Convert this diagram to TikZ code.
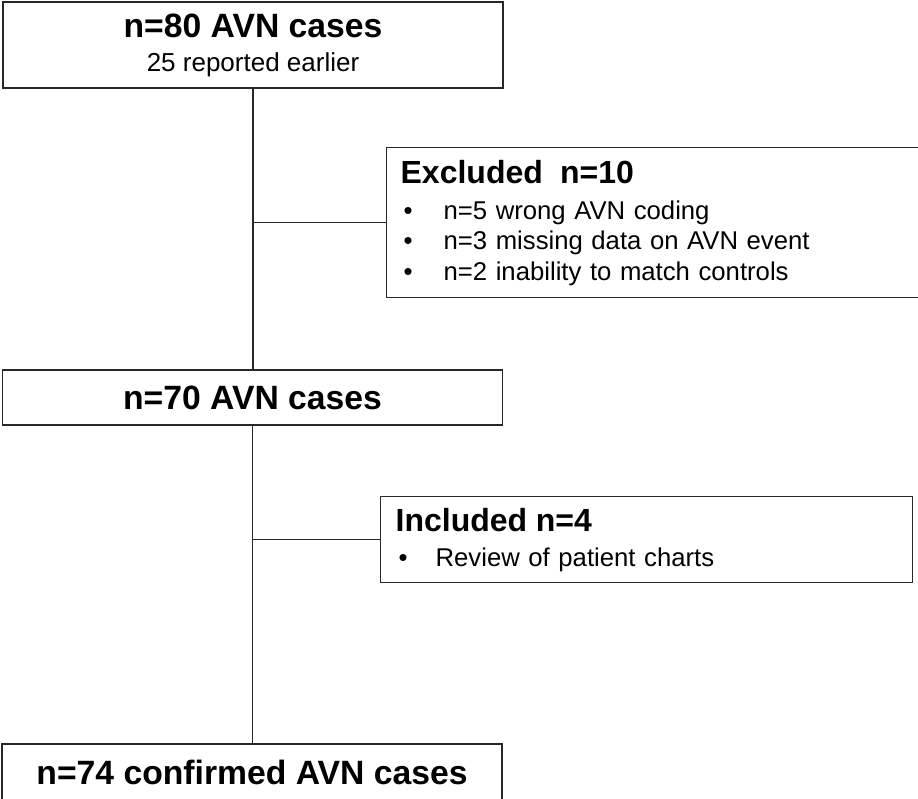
\documentclass[tikz,border=0pt]{standalone}
\usepackage{fontspec}
\setmainfont{Liberation Sans}
\usepackage{tikz}
\definecolor{white}{rgb}{1.0, 1.0, 1.0}
\definecolor{boxline}{RGB}{40,40,40}
\usetikzlibrary{positioning}
\pgfdeclarelayer{edgelayer}
\pgfdeclarelayer{nodelayer}
\pgfsetlayers{edgelayer,nodelayer,main}
\tikzstyle{mainbox}=[rectangle,fill=white,draw=boxline,line width=1.3pt,minimum width=500pt,align=center,inner sep=0pt]
\tikzstyle{sidebox}=[rectangle,fill=white,draw=boxline,line width=1.3pt,anchor=north west,align=left,inner xsep=14pt,inner ysep=0pt]
\tikzstyle{link}=[draw=boxline,line width=1.3pt]
\newcommand{\titletext}[1]{{\fontsize{33.7}{38}\selectfont\bfseries #1}}
\newcommand{\sidetitle}[1]{{\fontsize{32}{37}\selectfont\bfseries #1}}
\newcommand{\bulletline}[2][40pt]{\hspace*{3pt}\makebox[#1][l]{\textbullet}#2}

\begin{document}
\begin{tikzpicture}[x=1pt, y=-1pt]
        \useasboundingbox (0,0) rectangle (918,798);
        \begin{pgfonlayer}{nodelayer}
            \node [style = mainbox, minimum height=86pt, font=\fontsize{26}{34}\selectfont] (start) at (253, 45) {\titletext{n=80 AVN cases}\\25 reported earlier};
            \node [style = sidebox, text width=520pt, minimum height=150pt, font=\fontsize{25.7}{30.5}\selectfont] (excluded) at (386, 147) {\sidetitle{Excluded~~n=10}\\[5.5pt]\bulletline{n=5 wrong AVN coding}\\\bulletline{n=3 missing data on AVN event}\\\bulletline{n=2 inability to match controls}};

            \node [style = mainbox, minimum height=55pt] (mid) at (252.5, 397.5) {\titletext{n=70 AVN cases}};
            \node [style = sidebox, text width=502pt, minimum height=86pt, inner xsep=15pt, font=\fontsize{25.7}{30.5}\selectfont] (included) at (380, 496) {\sidetitle{Included n=4}\\[4.5pt]\bulletline[37pt]{Review of patient charts}};

            \node [style = mainbox, minimum height=56pt] (final) at (252, 772) {\titletext{n=74 confirmed AVN cases}};

            \coordinate (exjoin) at (start.south |- excluded.west);
            \coordinate (injoin) at (mid.south |- included.west);
        \end{pgfonlayer}

        \begin{pgfonlayer}{edgelayer}
            \draw [style = link] (start.south) to (start.south |- mid.north);
            \draw [style = link] (exjoin) to (excluded.west);
            \draw [style = link] (mid.south) to (mid.south |- final.north);
            \draw [style = link] (injoin) to (included.west);
        \end{pgfonlayer}
    \end{tikzpicture}
\end{document}
